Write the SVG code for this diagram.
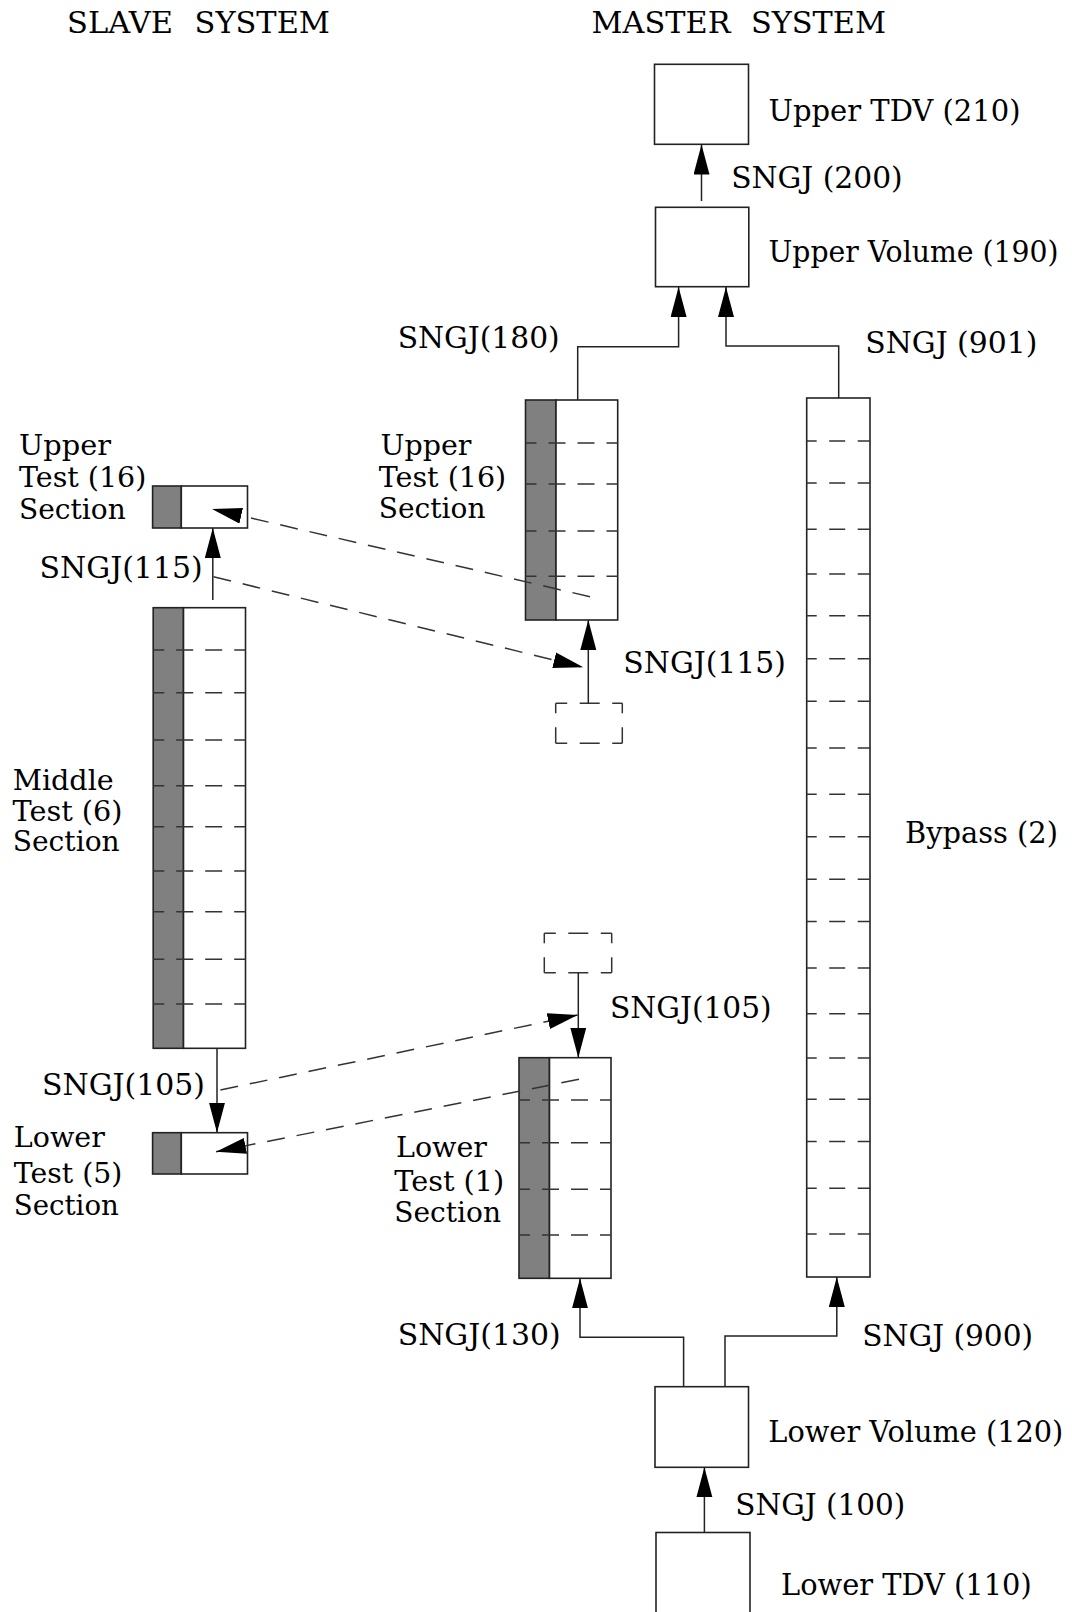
<svg xmlns="http://www.w3.org/2000/svg" width="1072" height="1612" viewBox="0 0 1072 1612">
<style>
text{font-family:"DejaVu Serif","Liberation Serif",serif;font-size:29px;fill:#000}
.sm{font-size:27.5px}
.box{fill:#fff;stroke:#222;stroke-width:1.6}
.gray{fill:#808080;stroke:#222;stroke-width:1.6}
.cell{stroke:#333;stroke-width:1.5;stroke-dasharray:17 12;stroke-dashoffset:6;fill:none}
.bcell{stroke:#333;stroke-width:1.5;stroke-dasharray:16 12.5;stroke-dashoffset:6;fill:none}
.conn{fill:none;stroke:#222;stroke-width:1.5}
.dash{fill:none;stroke:#333;stroke-width:1.5;stroke-dasharray:18 12}
.dbh{fill:none;stroke:#333;stroke-width:1.5;stroke-dasharray:11.5 12.5 20 12.5 11}
.dbv{fill:none;stroke:#333;stroke-width:1.5;stroke-dasharray:10 14 16}
</style>
<defs>
<marker id="ah" markerUnits="userSpaceOnUse" viewBox="0 0 31 17" markerWidth="31" markerHeight="17" refX="30" refY="8" orient="auto">
<path d="M0,0 L30,8 L0,16 z" fill="#000"/>
</marker>
</defs>

<g id="headers">
<text x="67" y="33" textLength="106" lengthAdjust="spacingAndGlyphs">SLAVE</text>
<text x="194.6" y="33" textLength="135.4" lengthAdjust="spacingAndGlyphs">SYSTEM</text>
<text x="591.5" y="33" textLength="139" lengthAdjust="spacingAndGlyphs">MASTER</text>
<text x="751" y="33" textLength="135" lengthAdjust="spacingAndGlyphs">SYSTEM</text>
</g>

<g id="upper-tdv">
<rect class="box" x="654.5" y="64.3" width="94" height="80"/>
<text x="768.5" y="120.7" textLength="252" lengthAdjust="spacingAndGlyphs">Upper TDV (210)</text>
</g>

<g id="upper-volume">
<rect class="box" x="655.5" y="207.3" width="93.3" height="79.4"/>
<text x="768.5" y="261.7" textLength="290" lengthAdjust="spacingAndGlyphs">Upper Volume (190)</text>
</g>

<g id="master-upper-test">
<rect class="gray" x="525.5" y="400" width="30.5" height="220"/>
<rect class="box" x="556" y="400" width="61.7" height="220"/>
<path class="cell" d="M525.5,443H617.7M525.5,484H617.7M525.5,531H617.7M525.5,576.3H617.7"/>
<text class="sm" x="380.5" y="455" textLength="91" lengthAdjust="spacingAndGlyphs">Upper</text>
<text class="sm" x="378.8" y="487.3" textLength="127.4" lengthAdjust="spacingAndGlyphs">Test (16)</text>
<text class="sm" x="378.8" y="518.3" textLength="106.7" lengthAdjust="spacingAndGlyphs">Section</text>
</g>

<g id="bypass">
<rect class="box" x="806.7" y="398" width="63.3" height="879"/>
<path class="bcell" d="M806.7,441H870M806.7,483H870M806.7,529.3H870M806.7,574H870M806.7,615.7H870M806.7,658.7H870M806.7,701.3H870M806.7,748H870M806.7,794.3H870M806.7,836.7H870M806.7,879.3H870M806.7,921.5H870M806.7,968H870M806.7,1013.7H870M806.7,1058H870M806.7,1099.2H870M806.7,1141.5H870M806.7,1188.3H870M806.7,1234H870"/>
<text x="905" y="843.3" textLength="153" lengthAdjust="spacingAndGlyphs">Bypass (2)</text>
</g>

<g id="slave-upper-test">
<rect class="gray" x="152.6" y="486" width="28.7" height="42"/>
<rect class="box" x="181.3" y="486" width="66.2" height="42"/>
<text class="sm" x="19" y="455" textLength="92" lengthAdjust="spacingAndGlyphs">Upper</text>
<text class="sm" x="19" y="487.3" textLength="127.3" lengthAdjust="spacingAndGlyphs">Test (16)</text>
<text class="sm" x="19" y="519" textLength="106.7" lengthAdjust="spacingAndGlyphs">Section</text>
</g>

<g id="middle-test">
<rect class="gray" x="153.2" y="607.7" width="30.3" height="440.6"/>
<rect class="box" x="183.5" y="607.7" width="62" height="440.6"/>
<path class="cell" d="M153.2,650H245.5M153.2,692.7H245.5M153.2,740H245.5M153.2,785.7H245.5M153.2,826.7H245.5M153.2,871H245.5M153.2,911.7H245.5M153.2,959.3H245.5M153.2,1004H245.5"/>
<text class="sm" x="12.7" y="790" textLength="101" lengthAdjust="spacingAndGlyphs">Middle</text>
<text class="sm" x="12.5" y="820.5" textLength="110" lengthAdjust="spacingAndGlyphs">Test (6)</text>
<text class="sm" x="12.7" y="851" textLength="107" lengthAdjust="spacingAndGlyphs">Section</text>
</g>

<g id="upper-sngj115-box">
<path class="dbh" d="M555.7,703.3H622.3M555.7,743.3H622.3"/>
<path class="dbv" d="M555.7,703.3V743.3M622.3,703.3V743.3"/>
</g>

<g id="lower-sngj105-box">
<path class="dbh" d="M544.3,933.3H611.7M544.3,972.7H611.7"/>
<path class="dbv" d="M544.3,933.3V972.7M611.7,933.3V972.7"/>
</g>

<g id="slave-lower-test">
<rect class="gray" x="152.6" y="1132.7" width="28.7" height="41.3"/>
<rect class="box" x="181.3" y="1132.7" width="66.2" height="41.3"/>
<text class="sm" x="13.8" y="1147" textLength="91" lengthAdjust="spacingAndGlyphs">Lower</text>
<text class="sm" x="13.8" y="1183" textLength="108.5" lengthAdjust="spacingAndGlyphs">Test (5)</text>
<text class="sm" x="13.8" y="1215" textLength="105" lengthAdjust="spacingAndGlyphs">Section</text>
</g>

<g id="master-lower-test">
<rect class="gray" x="519" y="1057.7" width="30.5" height="220.6"/>
<rect class="box" x="549.5" y="1057.7" width="61.5" height="220.6"/>
<path class="cell" d="M519,1100H611M519,1142.7H611M519,1189.3H611M519,1235H611"/>
<text class="sm" x="396" y="1157" textLength="91" lengthAdjust="spacingAndGlyphs">Lower</text>
<text class="sm" x="394.3" y="1190.7" textLength="110" lengthAdjust="spacingAndGlyphs">Test (1)</text>
<text class="sm" x="394.3" y="1222" textLength="106.7" lengthAdjust="spacingAndGlyphs">Section</text>
</g>

<g id="lower-volume">
<rect class="box" x="655" y="1386.7" width="93.5" height="80.6"/>
<text x="768.3" y="1442" textLength="295" lengthAdjust="spacingAndGlyphs">Lower Volume (120)</text>
</g>

<g id="lower-tdv">
<rect class="box" x="656" y="1532.5" width="94" height="100"/>
<text x="781" y="1595" textLength="250.7" lengthAdjust="spacingAndGlyphs">Lower TDV (110)</text>
</g>

<g id="connectors">
<path class="conn" d="M701.5,201V144.5" marker-end="url(#ah)"/>
<path class="conn" d="M577.7,400V346.7H678.6V287" marker-end="url(#ah)"/>
<path class="conn" d="M838.7,398V346H726V287" marker-end="url(#ah)"/>
<path class="conn" d="M212.8,600V528" marker-end="url(#ah)"/>
<path class="conn" d="M588.3,703.3V620" marker-end="url(#ah)"/>
<path class="conn" d="M217,1048.3V1132.7" marker-end="url(#ah)"/>
<path class="conn" d="M578.3,972.7V1057.7" marker-end="url(#ah)"/>
<path class="conn" d="M683.6,1386.7V1337.3H580V1278.3" marker-end="url(#ah)"/>
<path class="conn" d="M725,1386.7V1336H836.8V1277" marker-end="url(#ah)"/>
<path class="conn" d="M704.4,1532.5V1467.3" marker-end="url(#ah)"/>
<path class="dash" d="M590,596.7L212,509" marker-end="url(#ah)"/>
<path class="dash" d="M213.5,576.7L583.3,667.3" marker-end="url(#ah)"/>
<path class="dash" d="M220.4,1090L577.7,1015" marker-end="url(#ah)"/>
<path class="dash" d="M579,1079.3L216,1151.7" marker-end="url(#ah)"/>
</g>

<g id="labels">
<text x="731.2" y="188.3" textLength="171.5" lengthAdjust="spacingAndGlyphs">SNGJ (200)</text>
<text x="397.7" y="348.3" textLength="162" lengthAdjust="spacingAndGlyphs">SNGJ(180)</text>
<text x="865.3" y="353.3" textLength="172" lengthAdjust="spacingAndGlyphs">SNGJ (901)</text>
<text x="39.6" y="578.3" textLength="163" lengthAdjust="spacingAndGlyphs">SNGJ(115)</text>
<text x="623.3" y="672.7" textLength="162.7" lengthAdjust="spacingAndGlyphs">SNGJ(115)</text>
<text x="610" y="1018.3" textLength="161.7" lengthAdjust="spacingAndGlyphs">SNGJ(105)</text>
<text x="42" y="1095" textLength="163" lengthAdjust="spacingAndGlyphs">SNGJ(105)</text>
<text x="397.7" y="1345" textLength="163" lengthAdjust="spacingAndGlyphs">SNGJ(130)</text>
<text x="862.3" y="1346" textLength="170.8" lengthAdjust="spacingAndGlyphs">SNGJ (900)</text>
<text x="735.3" y="1515" textLength="170" lengthAdjust="spacingAndGlyphs">SNGJ (100)</text>
</g>
</svg>
